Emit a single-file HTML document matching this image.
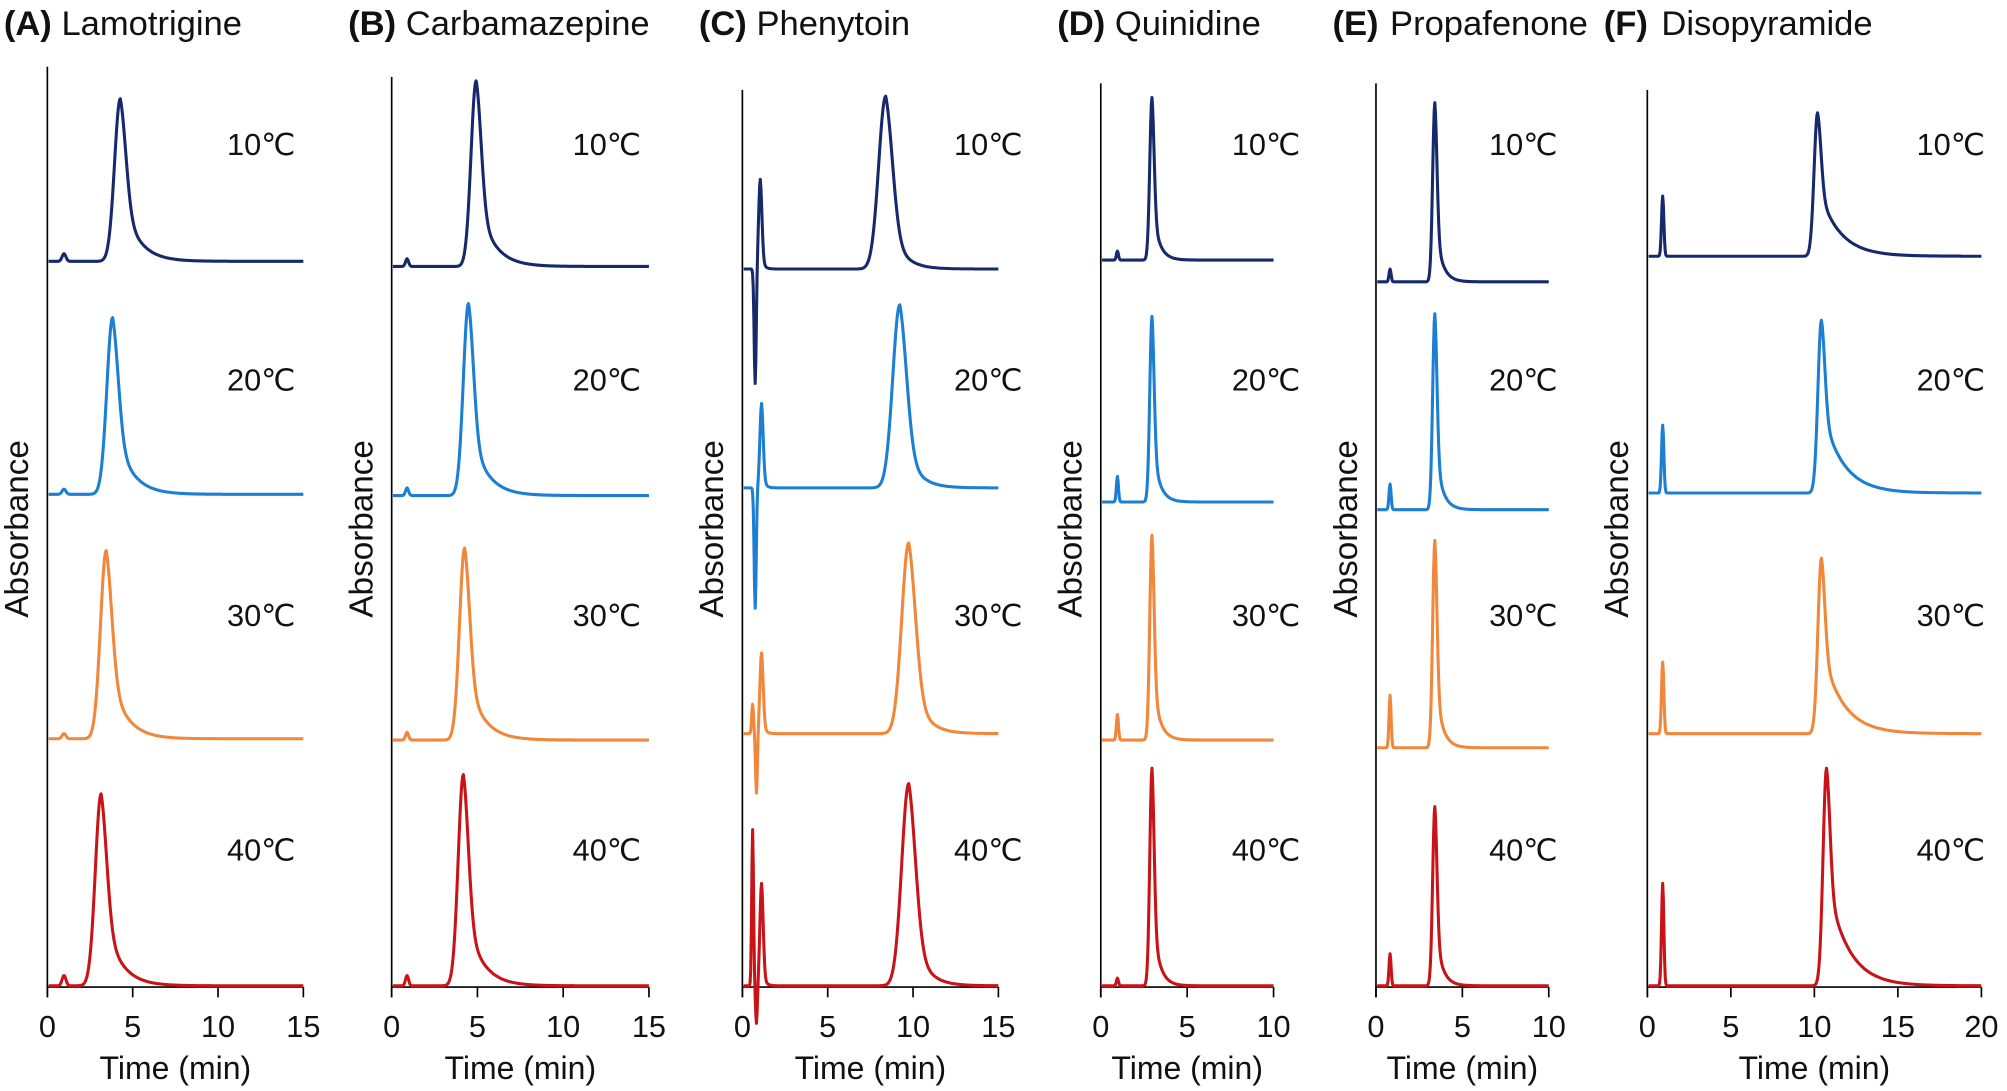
<!DOCTYPE html>
<html><head><meta charset="utf-8"><style>
html,body{margin:0;padding:0;background:#fff;}
svg{display:block;}
text{font-family:"Liberation Sans",Arial,sans-serif;fill:#111;}
</style></head><body>
<svg id="s" width="2007" height="1091" viewBox="0 0 1568 852" xmlns="http://www.w3.org/2000/svg"></svg>
<script>
const S=document.getElementById('s');
const NS='http://www.w3.org/2000/svg';
function el(t,a,txt){const e=document.createElementNS(NS,t);for(const k in a)e.setAttribute(k,a[k]);if(txt!==undefined)e.textContent=txt;S.appendChild(e);return e;}
const COLS=['#16296b','#1c7fd2','#f0873a','#c81419'];
const TEMPS=['10℃','20℃','30℃','40℃'];
function peak(x,p,s,tau,a){const d=x-p;if(d<0)return Math.exp(-d*d/(2*s*s));return (1-a)*Math.exp(-d*d/(2*s*s))+a*Math.exp(-d/tau);}
const panels=[
 {t:'(A)',n:'Lamotrigine',ax:37,top:52,x1:237,max:15,ticks:[0,5,10,15],lx:231,
  tr:[{b:204,ps:[[94,77,4.5,12,0.45],[50,198,1.5,2,0]]},{b:386,ps:[[88,248,4.5,12,0.45],[50,382,1.5,2,0]]},{b:577,ps:[[83,430,4.5,12,0.45],[50,573,1.5,2,0]]},{b:770,ps:[[79,620,4.5,12,0.45],[50,762,1.5,2,0]]}]},
 {t:'(B)',n:'Carbamazepine',ax:306,top:60,x1:507,max:15,ticks:[0,5,10,15],lx:501,
  tr:[{b:208,ps:[[372,63,4,12,0.4],[318,202,1.2,2,0]]},{b:387,ps:[[366,237,4,12,0.4],[318,381,1.2,2,0]]},{b:578,ps:[[363,428,4,12,0.4],[318,572,1.2,2,0]]},{b:770,ps:[[362,605,4,12,0.4],[318,762,1.2,2,0]]}]},
 {t:'(C)',n:'Phenytoin',ax:580,top:70,x1:780,max:15,ticks:[0,5,10,15],lx:799,
  tr:[{b:210,ps:[[692,75,5.5,10,0.35],[594,140,1.3,2,0.2],[590,300,0.8,1,0]]},{b:381,ps:[[703,238,5.5,10,0.35],[595,315,1.3,2,0.2],[590,475,0.8,1,0]]},{b:573,ps:[[710,424,5.5,10,0.35],[595,510,1.3,2,0.2],[588,550,0.7,1,0],[591,620,0.7,1,0]]},{b:770,ps:[[710,612,5.5,10,0.35],[595,690,1.3,2,0.2],[588,648,0.7,1,0],[591,800,0.7,1,0]]}]},
 {t:'(D)',n:'Quinidine',ax:860,top:65,x1:995,max:10,ticks:[0,5,10],lx:1016,
  tr:[{b:203,ps:[[900,76,1.7,5,0.35],[873,196,0.8,1,0]]},{b:392,ps:[[900,247,1.7,5,0.35],[873,372,0.8,1,0]]},{b:578,ps:[[900,418,1.7,5,0.35],[873,558,0.8,1,0]]},{b:770,ps:[[900,600,1.7,5,0.35],[873,764,0.8,1,0]]}]},
 {t:'(E)',n:'Propafenone',ax:1075,top:65,x1:1210,max:10,ticks:[0,5,10],lx:1217,
  tr:[{b:220,ps:[[1121,80,1.7,5,0.35],[1086,210,0.8,1,0]]},{b:398,ps:[[1121,245,1.7,5,0.35],[1086,378,0.8,1,0]]},{b:584,ps:[[1121,422,1.7,5,0.35],[1086,543,0.8,1,0]]},{b:770,ps:[[1121,630,1.7,5,0.35],[1086,745,0.8,1,0]]}]},
 {t:'(F)',n:'Disopyramide',ax:1287,top:70,x1:1548,max:20,ticks:[0,5,10,15,20],lx:1551,
  tr:[{b:200,ps:[[1420,88,2.7,16,0.5],[1299,153,0.9,1.5,0]]},{b:385,ps:[[1423,250,2.7,16,0.5],[1299,332,0.9,1.5,0]]},{b:573,ps:[[1423,436,2.7,16,0.5],[1299,517,0.9,1.5,0]]},{b:770,ps:[[1427,600,2.7,16,0.5],[1299,690,0.9,1.5,0]]}]}
];
panels.forEach(P=>{
  const bottom=771;
  el('text',{x:P.ax-34,y:27,'font-size':27,'font-weight':'bold'},P.t);
  el('text',{x:P.ax+11,y:27,'font-size':27},P.n);
  el('line',{x1:P.ax,y1:P.top,x2:P.ax,y2:bottom+8,stroke:'#000','stroke-width':1.3});
  el('line',{x1:P.ax,y1:bottom,x2:P.x1,y2:bottom,stroke:'#000','stroke-width':1.3});
  P.ticks.forEach(v=>{const x=P.ax+(P.x1-P.ax)*v/P.max;
    el('line',{x1:x,y1:bottom,x2:x,y2:bottom+8,stroke:'#000','stroke-width':1.3});
    el('text',{x:x,y:810,'font-size':24,'text-anchor':'middle'},String(v));});
  el('text',{x:(P.ax+P.x1)/2,y:843,'font-size':25,'text-anchor':'middle'},'Time (min)');
  el('text',{x:0,y:0,'font-size':26,'text-anchor':'middle',transform:`translate(${P.ax-15},413) rotate(-90)`},'Absorbance');
  P.tr.forEach((T,i)=>{
    el('text',{x:P.lx,y:[121,305,489,672][i],'font-size':24,'text-anchor':'end'},TEMPS[i]);
    let d='';
    for(let x=P.ax+1;x<=P.x1;x+=0.5){
      let y=T.b;
      T.ps.forEach(p=>{y-=(T.b-p[1])*peak(x,p[0],p[2],p[3],p[4]);});
      d+=(d?'L':'M')+x.toFixed(1)+' '+y.toFixed(1);
    }
    el('path',{d:d,fill:'none',stroke:COLS[i],'stroke-width':2.4,'stroke-linejoin':'round'});
  });
});
</script>
</body></html>
